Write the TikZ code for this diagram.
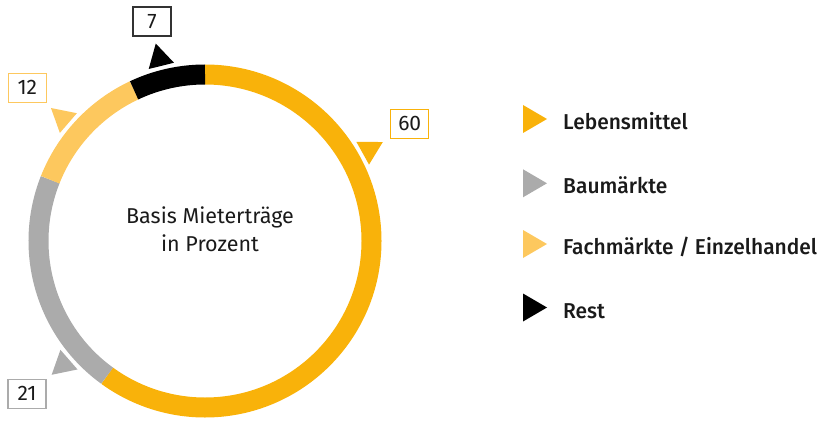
\documentclass[tikz,border=0pt]{standalone}
\usepackage{fontspec}
\setmainfont{Fira Sans}[BoldFont={Fira Sans Medium}]
\newfontfamily\legfont{Fira Sans Medium}[FakeStretch=0.975]
\usetikzlibrary{calc}
\definecolor{cOrange}{HTML}{F9B20A}
\definecolor{cLight}{HTML}{FDC85E}
\definecolor{cGray}{HTML}{ABABAB}
\definecolor{cBlack}{HTML}{000000}
\definecolor{txt}{HTML}{1A1A1A}
\definecolor{boxdark}{HTML}{333333}
\begin{document}
\begin{tikzpicture}[x=1pt,y=1pt,
  seg/.style={line width=20pt},
  numbox/.style={draw, line width=1.1pt, minimum width=38pt, minimum height=29pt, inner sep=0pt, font=\fontsize{21}{21}\selectfont, text=txt},
  legtext/.style={anchor=base west, inner sep=0pt, font=\legfont\fontsize{21.5}{21.5}\selectfont, text=txt},
  centertext/.style={align=center, inner sep=0pt, font=\fontsize{21.5}{28.7}\selectfont, text=txt}]
\useasboundingbox (0,0) rectangle (826,429);
\coordinate (C) at (205,188);
% ring
\draw[seg, cOrange] ($(C)+(90:166.5)$) arc[start angle=90, end angle=-126, radius=166.5];
\draw[seg, cGray] ($(C)+(234:166.5)$) arc[start angle=234, end angle=158.4, radius=166.5];
\draw[seg, cLight] ($(C)+(158.4:166.5)$) arc[start angle=158.4, end angle=115.2, radius=166.5];
\draw[seg, cBlack] ($(C)+(115.2:166.5)$) arc[start angle=115.2, end angle=90, radius=166.5];
% ring markers
\fill[cOrange, shift={(C)}, rotate=29.1] (180.5,-13) -- (180.5,13) -- (203.5,0) -- cycle;
\fill[cBlack, shift={(C)}, rotate=104] (180.5,-13) -- (180.5,13) -- (203.5,0) -- cycle;
\fill[cLight, shift={(C)}, rotate=139.2] (180.5,-13) -- (180.5,13) -- (203.5,0) -- cycle;
\fill[cGray, shift={(C)}, rotate=221.1] (180.5,-13) -- (180.5,13) -- (203.5,0) -- cycle;
% value boxes
\node[numbox, draw=cOrange] (v60) at (409.7,305.3) {60};
\node[numbox, draw=boxdark] (v7) at (152,407.5) {7};
\node[numbox, draw=cLight] (v12) at (27.3,341.2) {12};
\node[numbox, draw=cGray] (v21) at (27,35.2) {21};
% centre text
\node[centertext, anchor=base] (ct1) at (210,206) {Basis Mieterträge};
\node[centertext, anchor=base] (ct2) at (210,177.3) {in Prozent};
% legend
\fill[cOrange] (523,324) -- (523,296) -- (547,310) -- cycle;
\fill[cGray] (523,259.7) -- (523,231.7) -- (547,245.7) -- cycle;
\fill[cLight] (523,199) -- (523,171) -- (547,185) -- cycle;
\fill[cBlack] (523,135.5) -- (523,107.5) -- (547,121.5) -- cycle;
\node[legtext] (l1) at (563,299.5) {Lebensmittel};
\node[legtext] (l2) at (563,235.5) {Baumärkte};
\node[legtext] (l3) at (563,174.5) {Fachmärkte / Einzelhandel};
\node[legtext] (l4) at (563,111) {Rest};
\end{tikzpicture}
\end{document}
